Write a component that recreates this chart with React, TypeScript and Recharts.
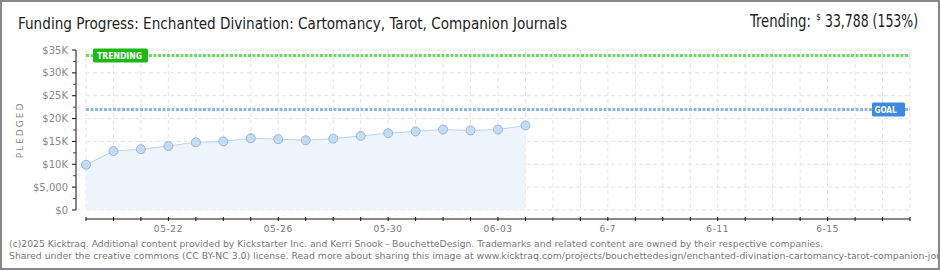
import { ComposedChart, Area, XAxis, YAxis, CartesianGrid, ReferenceLine } from 'recharts';

// pledged totals per day
const dates = [
  '05-19', '05-20', '05-21', '05-22', '05-23', '05-24', '05-25', '05-26', '05-27',
  '05-28', '05-29', '05-30', '05-31', '06-01', '06-02', '06-03', '06-04',
];
const pledged = [
  9900, 12900, 13300, 14000, 14800, 15000, 15700, 15500, 15250,
  15600, 16200, 16800, 17200, 17600, 17400, 17600, 18500,
];

const goal = 22000;
const trending = 33788;

// x axis: one tick per day of the campaign, 05-19 .. 06-18
const campaignDays = 31;
const labelDays = [3, 7, 11, 15, 19, 23, 27];
const labelTexts = ['05-22', '05-26', '05-30', '06-03', '6-7', '6-11', '6-15'];

// y axis: major ticks every 5K, red minor ticks between
const yTicks = [0, 2500, 5000, 7500, 10000, 12500, 15000, 17500, 20000, 22500, 25000, 27500, 30000, 32500, 35000];
const yMajor = [0, 5000, 10000, 15000, 20000, 25000, 30000, 35000];
const yMajorLabels = ['$0', '$5,000', '$10K', '$15K', '$20K', '$25K', '$30K', '$35K'];

const data = dates.map((date, i) => ({ day: i, date, pledged: pledged[i] }));
const dayTicks = Array.from({ length: campaignDays }, (_, i) => i);

const tickFont = "'DejaVu Sans', Verdana, sans-serif";
const headFont = "'Liberation Sans Narrow', 'DejaVu Sans Condensed', sans-serif";

function XTick(props: any) {
  const { x, y, payload } = props;
  const idx = labelDays.indexOf(payload.value);
  return (
    <g>
      <line x1={x} x2={x} y1={y + 7} y2={y + 11} stroke="#111" strokeWidth={1} />
      {idx >= 0 && (
        <text x={x} y={y + 22} textAnchor="middle" fontSize={9} letterSpacing={0.6} fill="#777" fontFamily={tickFont}>
          {labelTexts[idx]}
        </text>
      )}
    </g>
  );
}

function YTick(props: any) {
  const { x, y, payload } = props;
  const idx = yMajor.indexOf(payload.value);
  if (idx < 0) {
    return <line x1={x - 13} x2={x - 10} y1={y} y2={y} stroke="#e00000" strokeWidth={1} />;
  }
  return (
    <g>
      <line x1={x - 14} x2={x - 10} y1={y} y2={y} stroke="#111" strokeWidth={1} />
      <text x={x - 18} y={y + 3.5} textAnchor="end" fontSize={10} fill="#888" fontFamily={tickFont}>
        {yMajorLabels[idx]}
      </text>
    </g>
  );
}

function TrendingBadge({ viewBox }: any) {
  const bx = viewBox.x + 7;
  const by = viewBox.y;
  return (
    <g>
      <rect x={bx} y={by - 7} width={55} height={14} rx={1.5} fill="#1cb814" />
      <text x={bx + 4} y={by + 3.5} fontSize={9} fontWeight="bold" fill="#fff" fontFamily={tickFont} textLength={45} lengthAdjust="spacingAndGlyphs">
        TRENDING
      </text>
    </g>
  );
}

function GoalBadge({ viewBox }: any) {
  const bx = viewBox.x + viewBox.width - 38;
  const by = viewBox.y;
  return (
    <g>
      <rect x={bx} y={by - 7} width={33} height={14} rx={1.5} fill="#3e8ae0" />
      <text x={bx + 2.5} y={by + 3.5} fontSize={9} fontWeight="bold" fill="#fff" fontFamily={tickFont} textLength={22} lengthAdjust="spacingAndGlyphs">
        GOAL
      </text>
    </g>
  );
}

export default function App() {
  return (
    <div style={{ position: 'absolute', left: 0, top: 0, width: 940, height: 270, background: '#fff', overflow: 'hidden' }}>
      <ComposedChart width={940} height={270} data={data} margin={{ top: 50, right: 30, bottom: 30, left: 0 }}>
        <CartesianGrid stroke="#e3e3e3" strokeDasharray="4 3" horizontalValues={yMajor} />
        <XAxis
          type="number"
          dataKey="day"
          domain={[0, campaignDays - 1]}
          ticks={dayTicks}
          interval={0}
          height={30}
          tickSize={0}
          tickMargin={0}
          tickLine={false}
          axisLine={{ stroke: '#111', transform: 'translate(0, 9)' }}
          tick={XTick}
        />
        <YAxis
          type="number"
          domain={[0, 35000]}
          ticks={yTicks}
          interval={0}
          width={86}
          tickSize={0}
          tickMargin={0}
          tickLine={false}
          axisLine={{ stroke: '#111', transform: 'translate(-10, 0)' }}
          tick={YTick}
        />
        <Area
          type="linear"
          dataKey="pledged"
          baseValue={0}
          stroke="#b9d4f1"
          strokeWidth={1}
          fill="#eef4fc"
          fillOpacity={1}
          dot={{ r: 4.5, fill: '#c4dbf5', stroke: '#98b6d8', strokeWidth: 1 }}
          activeDot={false}
          isAnimationActive={false}
        />
        <ReferenceLine y={goal} stroke="#8db6e8" strokeWidth={3} strokeDasharray="3 1.5" label={GoalBadge} />
        <ReferenceLine y={trending} stroke="#6fd766" strokeWidth={3} strokeDasharray="3 1.5" label={TrendingBadge} />
      </ComposedChart>
      <svg width={940} height={270} style={{ position: 'absolute', left: 0, top: 0, pointerEvents: 'none' }}>
        <defs>
          <clipPath id="frameClip">
            <rect x={2} y={2} width={936} height={266} />
          </clipPath>
        </defs>
        <text x={18} y={29} fontSize={15} fill="#222" fontFamily={headFont} textLength={549} lengthAdjust="spacingAndGlyphs">
          Funding Progress: Enchanted Divination: Cartomancy, Tarot, Companion Journals
        </text>
        <text x={750} y={27} fontSize={17} fill="#222" fontFamily={headFont}>
          <tspan textLength={61} lengthAdjust="spacingAndGlyphs">Trending:</tspan>
          <tspan x={816} y={20} fontSize={8.5}>$</tspan>
          <tspan x={825} y={27} textLength={93} lengthAdjust="spacingAndGlyphs">33,788 (153%)</tspan>
        </text>
        <text
          transform="translate(23, 130) rotate(-90)"
          textAnchor="middle"
          fontSize={9}
          letterSpacing={2}
          fill="#888"
          fontFamily={tickFont}
        >
          PLEDGED
        </text>
        <g clipPath="url(#frameClip)" fontFamily="'DejaVu Sans Condensed', 'DejaVu Sans', sans-serif" fontSize={9.5} fill="#777">
          <text x={9} y={247} textLength={814} lengthAdjust="spacingAndGlyphs">
            (c)2025 Kicktraq. Additional content provided by Kickstarter Inc. and Kerri Snook - BouchetteDesign. Trademarks and related content are owned by their respective companies.
          </text>
          <text x={9} y={259} textLength={933} lengthAdjust="spacingAndGlyphs">
            Shared under the creative commons (CC BY-NC 3.0) license. Read more about sharing this image at www.kicktraq.com/projects/bouchettedesign/enchanted-divination-cartomancy-tarot-companion-jou
          </text>
        </g>
        <rect x={1} y={1} width={938} height={268} fill="none" stroke="#888" strokeWidth={2} />
      </svg>
    </div>
  );
}
